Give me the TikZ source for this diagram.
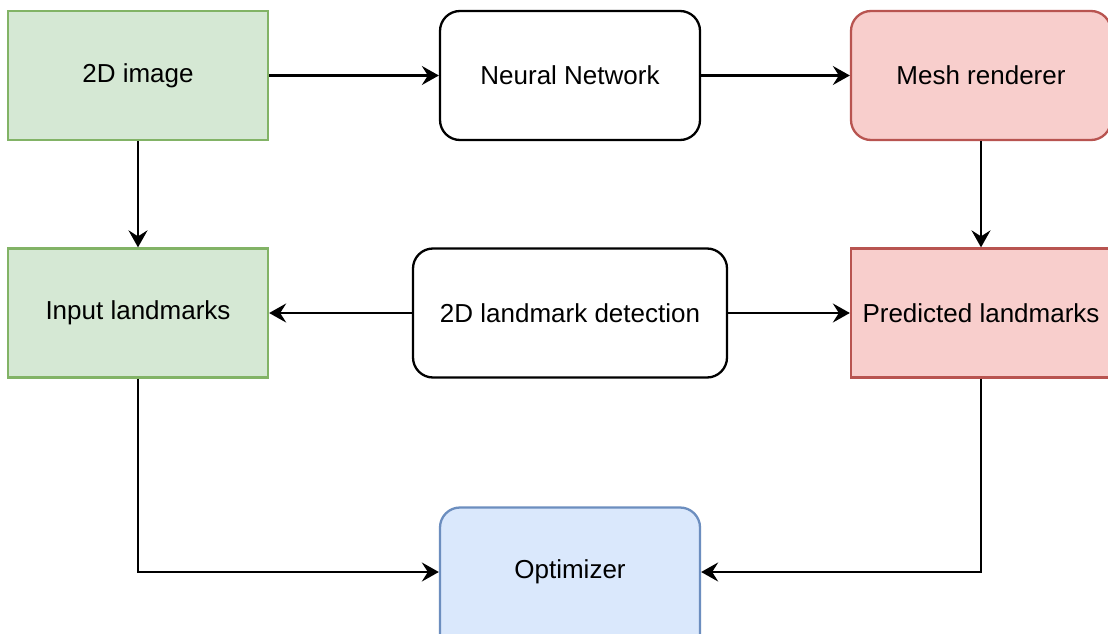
\documentclass[tikz,border=0pt]{standalone}
\usepackage{fontspec}
\setmainfont{Liberation Sans}
\usetikzlibrary{arrows.meta}
\definecolor{greenfill}{HTML}{D5E8D4}
\definecolor{greenline}{HTML}{82B366}
\definecolor{redfill}{HTML}{F8CECC}
\definecolor{redline}{HTML}{B85450}
\definecolor{bluefill}{HTML}{DAE8FC}
\definecolor{blueline}{HTML}{6C8EBF}
\begin{document}
\begin{tikzpicture}[x=1pt,y=-1pt,
  boxtext/.style={inner sep=0pt, font=\fontsize{26}{31}\selectfont},
  box/.style={boxtext, draw, line width=2.3pt, minimum width=260pt, minimum height=129pt},
  roundbox/.style={box, rounded corners=20pt},
  greenbox/.style={box, fill=greenfill, draw=greenline},
  redbox/.style={fill=redfill, draw=redline},
  bluebox/.style={roundbox, fill=bluefill, draw=blueline},
  arr/.style={line width=2.2pt, -{Stealth[length=17pt, width=19pt, inset=6pt]}}]
\useasboundingbox (0,0) rectangle (1108,634);
\clip (0,0) rectangle (1108,634);
\fill[white] (0,0) rectangle (1108,634);

% top row
\node[greenbox] (img) at (138,75.5) {2D image};
\node[roundbox] (nn) at (570,75.5) {Neural Network};
\node[roundbox, redbox] (mesh) at (981,75.5) {Mesh renderer};

% middle row
\node[greenbox] (inp) at (138,313) {Input landmarks};
\node[roundbox, minimum width=314pt] (det) at (570,313) {2D landmark detection};
\node[box, redbox] (pred) at (981,313) {Predicted landmarks};

% bottom row, cut by the lower edge; its label sits at the connectors' level
\node[bluebox, minimum height=150pt] (opt) at (570,582.5) {};
\node[boxtext] (optlabel) at (570,572) {Optimizer};

% connectors
\draw[arr] (img) -- (nn);
\draw[arr] (nn) -- (mesh);
\draw[arr] (img) -- (inp);
\draw[arr] (mesh) -- (pred);
\draw[arr] (det) -- (inp);
\draw[arr] (det) -- (pred);
\draw[arr] (inp.south) |- ([yshift=10.5pt]opt.west);
\draw[arr] (pred.south) |- ([yshift=10.5pt]opt.east);
\end{tikzpicture}
\end{document}
